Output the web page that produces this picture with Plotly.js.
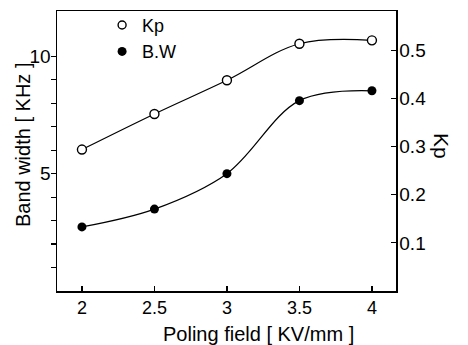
<!DOCTYPE html>
<html>
<head>
<meta charset="utf-8">
<script src="https://cdn.plot.ly/plotly-3.0.1.min.js"></script>
<style>html,body{margin:0;padding:0;background:#fff;}#chart{width:468px;height:345px;}</style>
</head>
<body>
<div id="chart"></div>
<script>
// Data
const polingField = [2, 2.5, 3, 3.5, 4];
const kpValues = [0.294, 0.368, 0.438, 0.514, 0.521];
const bandWidthKHz = [2.73, 3.49, 5.0, 8.11, 8.53];
const xTickVals = [2, 2.5, 3, 3.5, 4];
const xTickText = ['2', '2.5', '3', '3.5', '4'];
const leftTickVals = [1, 2, 3, 4, 5, 6, 7, 8, 9, 10];
const leftTickText = ['', '', '', '', '5', '', '', '', '', '10'];
const rightTickVals = [0.1, 0.2, 0.3, 0.4, 0.5];
const rightTickText = ['0.1', '0.2', '0.3', '0.4', '0.5'];

const FONT = 'Liberation Sans, Arial, sans-serif';

const traces = [
  {
    x: polingField, y: kpValues, yaxis: 'y2', name: 'Kp',
    mode: 'lines+markers', line: {shape: 'spline', smoothing: 1, color: '#000', width: 1.2},
    marker: {symbol: 'circle', size: 9, color: '#fff', line: {color: '#000', width: 1.4}},
    showlegend: false
  },
  {
    x: polingField, y: bandWidthKHz, yaxis: 'y', name: 'B.W',
    mode: 'lines+markers', line: {shape: 'spline', smoothing: 1, color: '#000', width: 1.2},
    marker: {symbol: 'circle', size: 9, color: '#000'},
    showlegend: false
  },
  {
    x: [null], y: [null], name: 'Kp', mode: 'markers',
    marker: {symbol: 'circle', size: 8, color: '#fff', line: {color: '#000', width: 1.4}}
  },
  {
    x: [null], y: [null], name: 'B.W', mode: 'markers',
    marker: {symbol: 'circle', size: 9, color: '#000'}
  }
];

const layout = {
  width: 468, height: 345,
  margin: {l: 57, r: 72, t: 7, b: 54, pad: 0},
  paper_bgcolor: '#fff', plot_bgcolor: '#fff',
  font: {family: FONT, size: 19, color: '#000'},
  showlegend: true,
  legend: {x: 0.133, y: 1.015, xanchor: 'left', yanchor: 'top', bgcolor: 'rgba(0,0,0,0)',
           font: {size: 18, family: FONT}, itemwidth: 30, tracegroupgap: 0},
  xaxis: {
    range: [1.828, 4.166], tickmode: 'array', tickvals: xTickVals, ticktext: xTickText,
    ticks: 'inside', ticklen: 5, tickwidth: 1.2, tickcolor: '#000',
    showline: true, linecolor: '#000', linewidth: 1.5, mirror: true,
    showgrid: false, zeroline: false, tickfont: {size: 18}, ticklabelstandoff: 0
  },
  yaxis: {
    range: [0, 11.93], tickmode: 'array', tickvals: leftTickVals, ticktext: leftTickText,
    ticks: 'outside', ticklen: 5, tickwidth: 1.2, tickcolor: '#000',
    showline: true, linecolor: '#000', linewidth: 1.5,
    showgrid: false, zeroline: false, tickfont: {size: 19}, ticklabelstandoff: -4
  },
  yaxis2: {
    overlaying: 'y', side: 'right',
    range: [0, 0.582], tickmode: 'array', tickvals: rightTickVals, ticktext: rightTickText,
    ticks: 'inside', ticklen: 5, tickwidth: 1.2, tickcolor: '#000',
    showline: true, linecolor: '#000', linewidth: 1.5,
    showgrid: false, zeroline: false, tickfont: {size: 19}, ticklabelstandoff: -2
  },
  annotations: [
    {text: 'Poling field [ KV/mm ]', xref: 'paper', yref: 'paper',
     x: (258 - 57) / 339, y: -(335 - 291) / 284, xanchor: 'center', yanchor: 'middle',
     showarrow: false, font: {size: 20, family: FONT}},
    {text: 'Band width [ KHz ]', xref: 'paper', yref: 'paper', textangle: -90,
     x: (23 - 57) / 339, y: (291 - 143) / 284, xanchor: 'center', yanchor: 'middle',
     showarrow: false, font: {size: 20, family: FONT}},
    {text: 'Kp', xref: 'paper', yref: 'paper', textangle: 90,
     x: (442 - 57) / 339, y: (291 - 144) / 284, xanchor: 'center', yanchor: 'middle',
     showarrow: false, font: {size: 21, family: FONT}}
  ]
};

Plotly.newPlot('chart', traces, layout, {displayModeBar: false, staticPlot: true});
</script>
</body>
</html>
